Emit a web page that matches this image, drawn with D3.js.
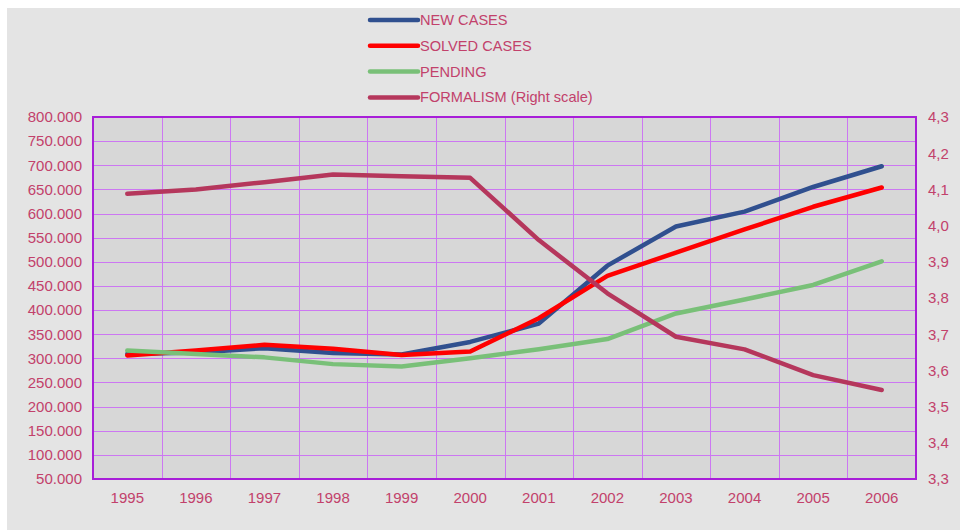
<!DOCTYPE html>
<html>
<head>
<meta charset="utf-8">
<script src="https://cdn.jsdelivr.net/npm/d3@7"></script>
<style>
  body { margin: 0; background: #fff; }
  svg { display: block; font-family: "Liberation Sans", Arial, sans-serif; }
</style>
</head>
<body>
<svg id="chart" width="960" height="530"></svg>
<script>
// data (cases in thousands, formalism on right scale)
var years = ['1995', '1996', '1997', '1998', '1999', '2000', '2001', '2002', '2003', '2004', '2005', '2006'];
var newCases = [309, 312, 321, 311, 308, 334, 372, 492, 573, 604, 655, 698];
var solvedCases = [306, 316, 328, 320, 307, 314, 383, 471, 519, 567, 614, 654];
var pending = [316, 309, 302, 288, 283, 300, 319, 340, 393, 422, 452, 501];
var formalism = [4.088, 4.100, 4.120, 4.141, 4.136, 4.132, 3.960, 3.813, 3.693, 3.658, 3.587, 3.546];
var leftTicks = [50, 100, 150, 200, 250, 300, 350, 400, 450, 500, 550, 600, 650, 700, 750, 800];
var rightTicks = [3.3, 3.4, 3.5, 3.6, 3.7, 3.8, 3.9, 4.0, 4.1, 4.2, 4.3];

var series = [
  { name: 'NEW CASES', values: newCases, color: '#30508f', right: false },
  { name: 'SOLVED CASES', values: solvedCases, color: '#ff0000', right: false },
  { name: 'PENDING', values: pending, color: '#79c078', right: false },
  { name: 'FORMALISM (Right scale)', values: formalism, color: '#b5375c', right: true }
];

var textColor = '#c2416b';
var plotLeft = 93, plotRight = 916, plotTop = 117, plotBottom = 479;

var svg = d3.select('#chart');

svg.append('rect')
  .attr('x', 7).attr('y', 8)
  .attr('width', 953).attr('height', 522)
  .attr('fill', '#e4e4e4');

var x = d3.scaleBand().domain(years).range([plotLeft, plotRight]);
var yL = d3.scaleLinear().domain([50, 800]).range([plotBottom, plotTop]);
var yR = d3.scaleLinear().domain([3.3, 4.3]).range([plotBottom, plotTop]);

svg.append('rect')
  .attr('x', plotLeft).attr('y', plotTop)
  .attr('width', plotRight - plotLeft).attr('height', plotBottom - plotTop)
  .attr('fill', '#d7d7d7');

// horizontal grid
svg.append('g').selectAll('line')
  .data(leftTicks.slice(1, -1))
  .enter().append('line')
  .attr('x1', plotLeft).attr('x2', plotRight)
  .attr('y1', function(d) { return Math.round(yL(d)) + 0.5; })
  .attr('y2', function(d) { return Math.round(yL(d)) + 0.5; })
  .attr('stroke', '#cc77f2').attr('stroke-width', 1)
  .attr('shape-rendering', 'crispEdges');

// vertical grid between categories
svg.append('g').selectAll('line')
  .data(years.slice(1))
  .enter().append('line')
  .attr('x1', function(d) { return Math.round(x(d)) + 0.5; })
  .attr('x2', function(d) { return Math.round(x(d)) + 0.5; })
  .attr('y1', plotTop).attr('y2', plotBottom)
  .attr('stroke', '#cc77f2').attr('stroke-width', 1)
  .attr('shape-rendering', 'crispEdges');

svg.append('rect')
  .attr('x', plotLeft).attr('y', plotTop)
  .attr('width', plotRight - plotLeft).attr('height', plotBottom - plotTop)
  .attr('fill', 'none')
  .attr('stroke', '#a81ed8').attr('stroke-width', 2);

// axes
var axisL = svg.append('g')
  .attr('transform', 'translate(' + plotLeft + ',0)')
  .call(d3.axisLeft(yL).tickValues(leftTicks).tickSize(0).tickPadding(11)
    .tickFormat(function(d) { return d + '.000'; }));

var axisR = svg.append('g')
  .attr('transform', 'translate(' + plotRight + ',0)')
  .call(d3.axisRight(yR).tickValues(rightTicks).tickSize(0).tickPadding(12)
    .tickFormat(function(d) { return d3.format('.1f')(d).replace('.', ','); }));

var axisB = svg.append('g')
  .attr('transform', 'translate(0,' + plotBottom + ')')
  .call(d3.axisBottom(x).tickSize(0).tickPadding(13));

[axisL, axisR, axisB].forEach(function(a) {
  a.select('.domain').remove();
  a.selectAll('text')
    .attr('fill', textColor)
    .style('font-size', '15px')
    .style('font-family', '"Liberation Sans", Arial, sans-serif');
});

// lines
series.forEach(function(s) {
  var yScale = s.right ? yR : yL;
  var line = d3.line()
    .x(function(d, i) { return x(years[i]) + x.bandwidth() / 2; })
    .y(function(d) { return yScale(d); });
  svg.append('path')
    .datum(s.values)
    .attr('d', line)
    .attr('fill', 'none')
    .attr('stroke', s.color)
    .attr('stroke-width', 4.5)
    .attr('stroke-linejoin', 'round')
    .attr('stroke-linecap', 'round');
});

// legend
var legend = svg.append('g').selectAll('g')
  .data(series)
  .enter().append('g')
  .attr('transform', function(d, i) { return 'translate(369,' + (20 + i * 25.8) + ')'; });

legend.append('line')
  .attr('x1', 1).attr('x2', 49)
  .attr('stroke', function(d) { return d.color; })
  .attr('stroke-width', 4.5)
  .attr('stroke-linecap', 'round');

legend.append('text')
  .attr('x', 51).attr('y', 5)
  .attr('fill', textColor)
  .style('font-size', '14.6px')
  .text(function(d) { return d.name; });
</script>
</body>
</html>
